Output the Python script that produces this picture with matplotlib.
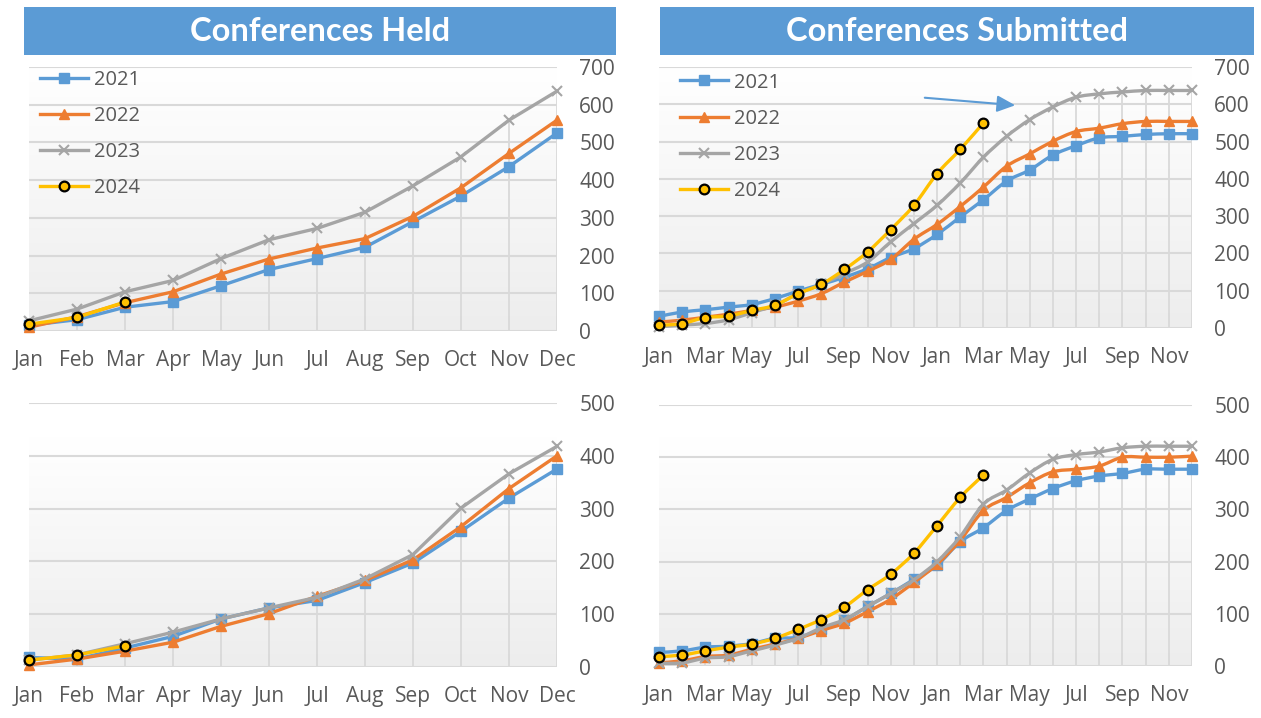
import numpy as np
import matplotlib
matplotlib.use("Agg")
import matplotlib.pyplot as plt
from matplotlib.path import Path
from matplotlib.patches import PathPatch, Rectangle, FancyArrowPatch
from matplotlib.lines import Line2D
from matplotlib.colors import LinearSegmentedColormap

plt.rcParams['font.family'] = ['Open Sans', 'DejaVu Sans']

# ---------------- data ----------------
months = ["Jan", "Feb", "Mar", "Apr", "May", "Jun", "Jul", "Aug", "Sep", "Oct", "Nov", "Dec"]
years = ["2021", "2022", "2023", "2024"]
titles = ["Conferences Held", "Conferences Submitted"]

held_top_2021 = [15, 30, 63, 78, 120, 163, 192, 222, 290, 358, 436, 525]
held_top_2022 = [10, 38, 75, 104, 151, 191, 220, 245, 304, 380, 471, 559]
held_top_2023 = [27, 58, 104, 134, 192, 242, 272, 315, 385, 462, 559, 636]
held_top_2024 = [18, 36, 77]

sub_top_2021 = [31, 43, 49, 56, 63, 79, 99, 117, 136, 159, 189, 213, 251, 298, 344, 394, 424, 464, 489, 510, 514, 519, 521, 521]
sub_top_2022 = [16, 21, 29, 37, 47, 56, 72, 92, 123, 152, 184, 238, 278, 326, 378, 434, 467, 501, 527, 536, 548, 554, 554, 554]
sub_top_2023 = [3, 8, 12, 22, 41, 61, 92, 117, 146, 177, 231, 280, 329, 389, 458, 514, 559, 593, 619, 628, 633, 637, 637, 637]
sub_top_2024 = [7, 12, 28, 32, 47, 61, 92, 117, 157, 204, 264, 329, 414, 479, 550]

held_bot_2021 = [18, 15, 36, 58, 91, 112, 126, 160, 197, 257, 320, 375]
held_bot_2022 = [4, 15, 30, 47, 77, 101, 134, 164, 203, 266, 338, 400]
held_bot_2023 = [13, 23, 44, 66, 91, 112, 132, 167, 213, 301, 366, 418]
held_bot_2024 = [13, 23, 40]

sub_bot_2021 = [26, 29, 36, 38, 43, 53, 55, 70, 88, 114, 139, 166, 193, 238, 265, 298, 320, 340, 355, 364, 369, 377, 377, 377]
sub_bot_2022 = [6, 10, 18, 21, 32, 42, 53, 68, 82, 104, 128, 160, 195, 241, 298, 323, 351, 372, 377, 383, 400, 400, 400, 402]
sub_bot_2023 = [5, 6, 15, 18, 29, 40, 53, 73, 89, 114, 139, 165, 200, 248, 310, 337, 370, 396, 405, 410, 418, 421, 421, 421]
sub_bot_2024 = [18, 21, 29, 36, 42, 53, 70, 89, 113, 146, 176, 216, 269, 323, 366]

# ---------------- style ----------------
W, H = 1261, 718
colors = ["#5B9BD5", "#ED7D31", "#A5A5A5", "#FFC000"]
mstyles = [
    dict(marker='s', ms=6.5, mfc=colors[0], mec=colors[0]),
    dict(marker='^', ms=7.5, mfc=colors[1], mec=colors[1]),
    dict(marker='x', ms=7, mfc=colors[2], mec=colors[2], mew=1.5),
    dict(marker='o', ms=7, mfc=colors[3], mec='black', mew=1.6),
]
tick_col = "#595959"
grid_col = "#d9d9d9"
LW = 2.4

fig = plt.figure(figsize=(W / 100, H / 100), dpi=100)
fig.patch.set_facecolor('white')


def px_axes(x0, x1, ytop, ybot):
    return fig.add_axes([x0 / W, 1 - ybot / H, (x1 - x0) / W, (ybot - ytop) / H])


def smooth_path(x, y):
    pts = np.column_stack([x, y]).astype(float)
    n = len(pts)
    verts = [pts[0]]
    codes = [Path.MOVETO]
    for i in range(n - 1):
        p0 = pts[i - 1] if i > 0 else pts[i]
        p1 = pts[i]
        p2 = pts[i + 1]
        p3 = pts[i + 2] if i + 2 < n else pts[i + 1]
        c1 = p1 + (p2 - p0) / 6.0
        c2 = p2 - (p3 - p1) / 6.0
        verts += [c1, c2, p2]
        codes += [Path.CURVE4] * 3
    return Path(verts, codes)


grad_cmap = LinearSegmentedColormap.from_list("g", ["#ededed", "#ffffff"])


def draw_panel(ax, series, ymax, ystep, xlabels, label_step, smooth, grad_top, legend_xy=None):
    n = len(series[0])
    x_all = np.arange(n)
    grad = np.linspace(0, 1, 256).reshape(-1, 1)
    ax.imshow(grad, extent=[0, n - 1, 0, grad_top], aspect='auto', cmap=grad_cmap,
              origin='lower', zorder=0, interpolation='bilinear')
    # drop lines to highest series
    tops = []
    for i in range(n):
        tops.append(max(s[i] for s in series if i < len(s)))
    ax.vlines(x_all, 0, tops, color=grid_col, lw=1.3, zorder=1)
    for k, s in enumerate(series):
        xs = np.arange(len(s))
        if smooth:
            patch = PathPatch(smooth_path(xs, s), facecolor='none', edgecolor=colors[k],
                              lw=LW, zorder=3 + k, clip_on=False, joinstyle='round', capstyle='round')
            ax.add_patch(patch)
            ax.plot(xs, s, linestyle='none', zorder=3.5 + k, clip_on=False, **mstyles[k])
        else:
            ax.plot(xs, s, color=colors[k], lw=LW, zorder=3 + k, clip_on=False,
                    solid_joinstyle='round', **mstyles[k])
    ax.set_xlim(0, n - 1)
    ax.set_ylim(0, ymax)
    ax.set_yticks(np.arange(0, ymax + 1, ystep))
    ax.yaxis.tick_right()
    ax.yaxis.grid(True, color=grid_col, lw=1.5, zorder=1)
    ax.set_axisbelow(True)
    ax.set_xticks(np.arange(0, n, label_step))
    ax.set_xticklabels(xlabels)
    ax.tick_params(axis='y', length=0, pad=16, labelsize=15, labelcolor=tick_col)
    ax.tick_params(axis='x', length=0, pad=14, labelsize=15, labelcolor=tick_col)
    for sp in ax.spines.values():
        sp.set_visible(False)
    ax.set_facecolor('none')
    if legend_xy is not None:
        handles = [Line2D([], [], color=colors[k], lw=LW, **mstyles[k]) for k in range(4)]
        ax.legend(handles, years, loc='upper left',
                  bbox_to_anchor=(legend_xy[0] / W, 1 - legend_xy[1] / H),
                  bbox_transform=fig.transFigure, frameon=False, fontsize=14.5,
                  labelcolor=tick_col, handlelength=2.4, handletextpad=0.3,
                  labelspacing=0.8, borderpad=0, borderaxespad=0)


sub_labels = [months[i % 12] for i in range(0, 24, 2)]

ax_tl = px_axes(29, 557, 67, 331)
draw_panel(ax_tl, [held_top_2021, held_top_2022, held_top_2023, held_top_2024], 700, 100,
           months, 1, False, 700, legend_xy=(40, 70))

ax_tr = px_axes(659, 1192, 67, 328)
draw_panel(ax_tr, [sub_top_2021, sub_top_2022, sub_top_2023, sub_top_2024], 700, 100,
           sub_labels, 2, True, 700, legend_xy=(680, 72.5))

ax_bl = px_axes(29, 557, 403, 667)
draw_panel(ax_bl, [held_bot_2021, held_bot_2022, held_bot_2023, held_bot_2024], 500, 100,
           months, 1, False, 435)

ax_br = px_axes(659, 1192, 405, 666)
draw_panel(ax_br, [sub_bot_2021, sub_bot_2022, sub_bot_2023, sub_bot_2024], 500, 100,
           sub_labels, 2, True, 437)

# title banners
for (x0, x1), title in zip([(24, 616), (660, 1254)], titles):
    fig.patches.append(Rectangle((x0 / W, 1 - 55 / H), (x1 - x0) / W, 48 / H,
                                 transform=fig.transFigure, facecolor="#5B9BD5",
                                 edgecolor='none', zorder=0))
    fig.text((x0 + x1) / 2 / W, 1 - 31.5 / H, title, ha='center', va='center',
             color='white', fontsize=23.5, fontweight='bold', family=['Lato', 'DejaVu Sans'])

# annotation arrow
arrow = FancyArrowPatch((922 / W, 1 - 97.5 / H), (1018 / W, 1 - 105.5 / H),
                        transform=fig.transFigure,
                        arrowstyle='-|>,head_length=1.1,head_width=0.5',
                        mutation_scale=10, color="#5B9BD5", lw=1.5)
fig.patches.append(arrow)

fig.savefig("out.png", dpi=100)
